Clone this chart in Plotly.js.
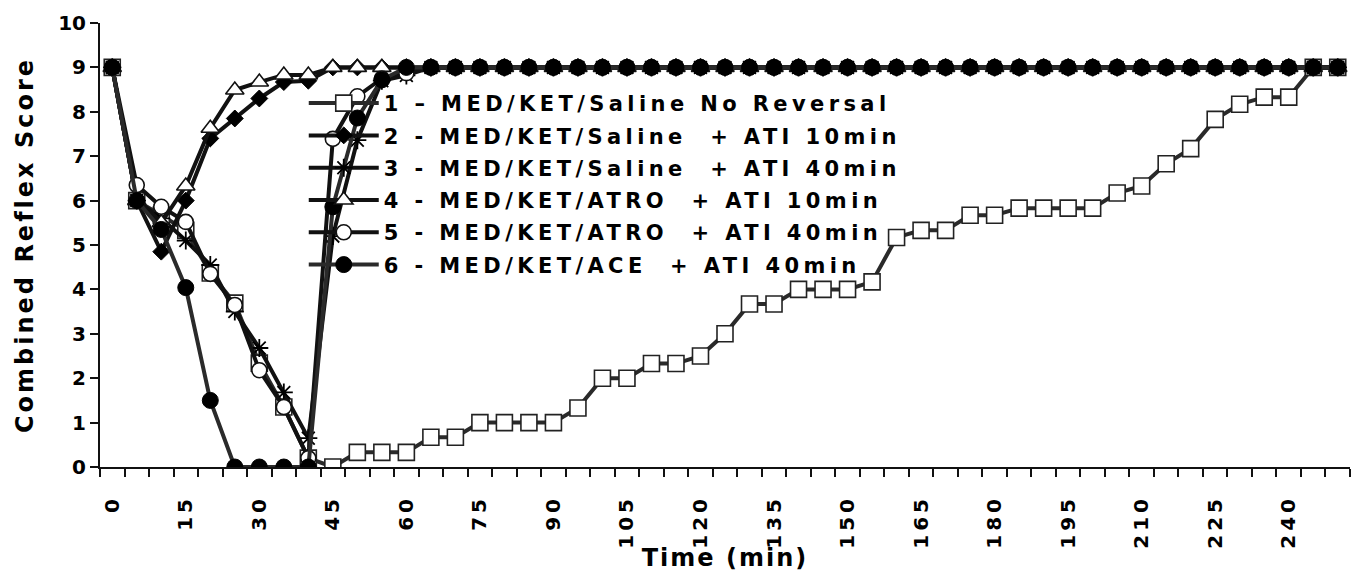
<!DOCTYPE html>
<html>
<head>
<meta charset="utf-8">
<script src="https://cdn.plot.ly/plotly-3.0.1.min.js"></script>
<style>
  html, body { margin: 0; padding: 0; background: #fff; }
  #chart { width: 1356px; height: 572px; }
  text.legendtext { letter-spacing: 4.4px; }
  text.xtitle { letter-spacing: 2px; }
  text.ytitle { letter-spacing: 3px; }
  .xtick text { letter-spacing: 4px; }
</style>
</head>
<body>
<div id="chart"></div>
<script>
// Time points (min)
const time = [0,5,10,15,20,25,30,35,40,45,50,55,60,65,70,75,80,85,90,95,100,105,110,115,120,125,130,135,140,145,150,155,160,165,170,175,180,185,190,195,200,205,210,215,220,225,230,235,240,245,250];

// Series names
const names = [
  "1 \u2013 MED/KET/Saline No Reversal",
  "2 - MED/KET/Saline  + ATI 10min",
  "3 - MED/KET/Saline  + ATI 40min",
  "4 - MED/KET/ATRO  + ATI 10min",
  "5 - MED/KET/ATRO  + ATI 40min",
  "6 - MED/KET/ACE  + ATI 40min"
];

// Combined reflex score per series
const s1 = [9,6.0,5.67,5.33,4.37,3.69,2.34,1.35,0.2,0,0.33,0.33,0.33,0.67,0.67,1,1,1,1,1.33,2,2,2.33,2.33,2.5,3,3.67,3.67,4,4,4,4.17,5.17,5.33,5.33,5.67,5.67,5.83,5.83,5.83,5.83,6.17,6.33,6.83,7.17,7.83,8.17,8.33,8.33,9,9];
const s2 = [9,6.0,4.85,6.0,7.4,7.85,8.3,8.67,8.7,9,9,9,9,9,9,9,9,9,9,9,9,9,9,9,9,9,9,9,9,9,9,9,9,9,9,9,9,9,9,9,9,9,9,9,9,9,9,9,9,9,9];
const s3 = [9,6.0,5.6,5.1,4.55,3.5,2.68,1.68,0.65,5.2,7.36,8.7,8.82,9,9,9,9,9,9,9,9,9,9,9,9,9,9,9,9,9,9,9,9,9,9,9,9,9,9,9,9,9,9,9,9,9,9,9,9,9,9];
const s4 = [9,6.0,5.5,6.33,7.63,8.49,8.67,8.83,8.83,9,9,9,9,9,9,9,9,9,9,9,9,9,9,9,9,9,9,9,9,9,9,9,9,9,9,9,9,9,9,9,9,9,9,9,9,9,9,9,9,9,9];
const s5 = [9,6.35,5.86,5.52,4.35,3.65,2.18,1.35,0.2,7.39,8.35,8.75,8.87,9,9,9,9,9,9,9,9,9,9,9,9,9,9,9,9,9,9,9,9,9,9,9,9,9,9,9,9,9,9,9,9,9,9,9,9,9,9];
const s6 = [9,6.0,5.35,4.04,1.5,0,0,0,0,5.86,7.86,8.72,9,9,9,9,9,9,9,9,9,9,9,9,9,9,9,9,9,9,9,9,9,9,9,9,9,9,9,9,9,9,9,9,9,9,9,9,9,9,9];

// Axis tick labels
const xTickVals = [0,15,30,45,60,75,90,105,120,135,150,165,180,195,210,225,240];
const xTickText = ["0","15","30","45","60","75","90","105","120","135","150","165","180","195","210","225","240"];
const yTickVals = [0,1,2,3,4,5,6,7,8,9,10];

const FONT = "DejaVu Sans, Liberation Sans, Arial, sans-serif";

const traces = [
  {y: s1, name: names[0], line: {color: "#2a2a2a", width: 4},
   marker: {symbol: "square", size: 16, color: "#ffffff", line: {color: "#222", width: 1.6}}},
  {y: s2, name: names[1], line: {color: "#111", width: 4},
   marker: {symbol: "diamond", size: 13, color: "#000000", line: {color: "#000", width: 1}}},
  {y: s3, name: names[2], line: {color: "#111", width: 4},
   marker: {symbol: "asterisk-open", size: 15, color: "#000000", line: {color: "#000", width: 1.8}}},
  {y: s4, name: names[3], line: {color: "#111", width: 4},
   marker: {symbol: "triangle-up", size: 16, color: "#ffffff", line: {color: "#111", width: 1.6}}},
  {y: s5, name: names[4], line: {color: "#111", width: 4},
   marker: {symbol: "circle", size: 15, color: "#ffffff", line: {color: "#111", width: 1.6}}},
  {y: s6, name: names[5], line: {color: "#2a2a2a", width: 4},
   marker: {symbol: "circle", size: 16, color: "#000000", line: {color: "#000", width: 1}}}
].map((t, i) => Object.assign({x: time, type: "scatter", mode: "lines+markers", hoverinfo: "x+y+name", legendgroup: "g" + i}, t));

const layout = {
  width: 1356, height: 572,
  margin: {l: 100, r: 6, t: 23, b: 105},
  paper_bgcolor: "#ffffff", plot_bgcolor: "#ffffff",
  font: {family: FONT, color: "#000", size: 18, weight: "bold"},
  showlegend: true,
  legend: {
    x: 0.163, y: 0.865, xanchor: "left", yanchor: "top",
    bgcolor: "rgba(0,0,0,0)", borderwidth: 0,
    font: {family: FONT, size: 21, color: "#000", weight: "bold"},
    itemwidth: 70, traceorder: "grouped", tracegroupgap: 2
  },
  xaxis: {
    type: "linear", range: [-2.5, 252.5], fixedrange: true,
    showgrid: false, zeroline: false,
    showline: true, linecolor: "#111", linewidth: 2,
    tickmode: "array", tickvals: xTickVals, ticktext: xTickText,
    ticks: "outside", ticklen: 18, tickcolor: "rgba(0,0,0,0)", tickwidth: 1,
    tickangle: -90,
    tickfont: {family: FONT, size: 20, color: "#000", weight: "bold"},
    minor: {tickmode: "linear", tick0: 2.5, dtick: 5, ticks: "outside", ticklen: 8, tickwidth: 2, tickcolor: "#111", showgrid: false},
    title: {text: "Time (min)", font: {family: FONT, size: 24, color: "#000", weight: "bold"}, standoff: 3}
  },
  yaxis: {
    range: [0, 10], fixedrange: true,
    showgrid: false, zeroline: false,
    showline: true, linecolor: "#111", linewidth: 2,
    tickmode: "array", tickvals: yTickVals,
    ticks: "outside", ticklen: 8, tickwidth: 2, tickcolor: "#111",
    tickfont: {family: FONT, size: 20, color: "#000", weight: "bold"},
    title: {text: "Combined Reflex Score", font: {family: FONT, size: 24, color: "#000", weight: "bold"}, standoff: 18}
  }
};

Plotly.newPlot("chart", traces, layout, {displayModeBar: false, staticPlot: true});
</script>
</body>
</html>
